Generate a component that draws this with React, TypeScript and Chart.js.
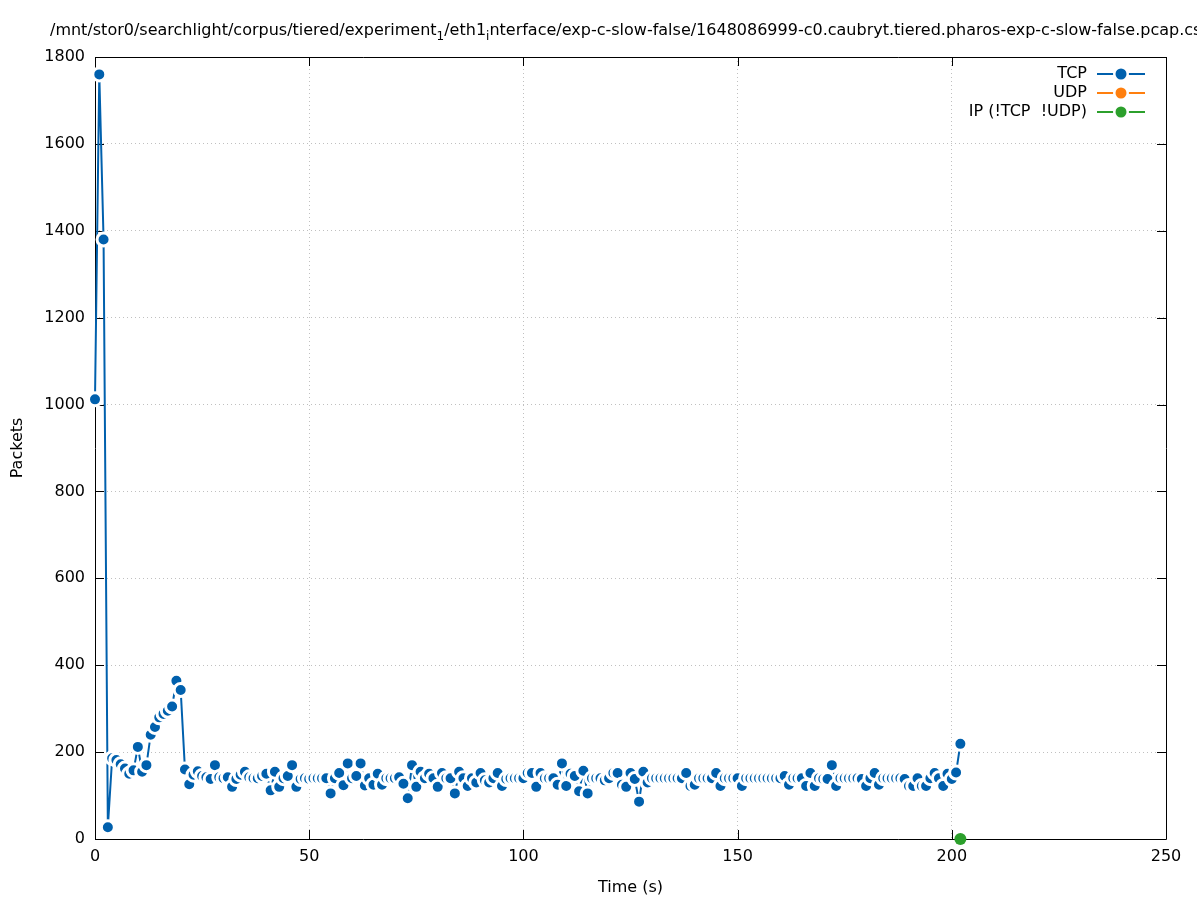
import React, { useEffect, useRef } from "react";
import { Chart, registerables } from "chart.js";

Chart.register(...registerables);

const FONT_FAMILY = "'DejaVu Sans', sans-serif";
const FONT_SIZE = 16;

const TITLE_PARTS = [
  { text: "/mnt/stor0/searchlight/corpus/tiered/experiment", sub: false },
  { text: "1", sub: true },
  { text: "/eth1", sub: false },
  { text: "i", sub: true },
  { text: "nterface/exp-c-slow-false/1648086999-c0.caubryt.tiered.pharos-exp-c-slow-false.pcap.csv", sub: false },
];

const X_TITLE = "Time (s)";
const Y_TITLE = "Packets";
const X_MIN = 0;
const X_MAX = 250;
const X_STEP = 50;
const Y_MIN = 0;
const Y_MAX = 1800;
const Y_STEP = 200;

const SERIES_LABELS = ["TCP", "UDP", "IP (!TCP  !UDP)"];
const SERIES_COLORS = ["#0060ad", "#ff7f0e", "#2ca02c"];

// TCP packets per second, t = 0 .. 202 s
const TCP = [
  1012, 1760, 1380, 27, 186, 182, 172, 162, 150, 158,
  212, 155, 170, 240, 258, 280, 288, 295, 305, 364,
  343, 160, 126, 148, 156, 145, 142, 138, 170, 142,
  140, 142, 120, 138, 148, 155, 142, 140, 140, 145,
  150, 112, 155, 120, 140, 145, 170, 120, 138, 140,
  138, 140, 140, 140, 140, 105, 140, 152, 124, 174,
  140, 145, 174, 123, 140, 125, 150, 125, 140, 140,
  140, 142, 127, 94, 170, 120, 155, 140, 150, 140,
  120, 152, 140, 140, 105, 155, 140, 122, 140, 130,
  152, 135, 130, 140, 152, 122, 138, 140, 140, 140,
  140, 152, 152, 120, 152, 140, 140, 140, 125, 174,
  122, 150, 145, 110, 157, 105, 140, 140, 140, 135,
  140, 152, 152, 125, 120, 152, 138, 86, 155, 130,
  140, 140, 140, 140, 140, 140, 140, 140, 152, 122,
  125, 140, 140, 140, 140, 152, 122, 140, 140, 140,
  140, 122, 140, 140, 140, 140, 140, 140, 140, 140,
  140, 145, 125, 140, 140, 140, 122, 152, 122, 140,
  138, 138, 170, 122, 140, 140, 140, 140, 140, 138,
  122, 140, 152, 125, 140, 140, 140, 140, 140, 138,
  122, 122, 140, 122, 122, 140, 152, 140, 122, 150,
  138, 153, 219,
];

const TIMES = TCP.map((_, i) => i);

// UDP: no samples
const UDP: number[] = [];

// IP (!TCP !UDP): zero packets, sample drawn at the final second
const IP_OTHER_TIMES = [202];
const IP_OTHER = [0];

const framePlugin = {
  id: "gnuplotFrame",
  beforeDatasetsDraw(chart: any) {
    const { ctx, chartArea } = chart;
    const { left, right, top, bottom } = chartArea;
    const xs = chart.scales.x;
    const ys = chart.scales.y;
    const tl = 9;
    ctx.save();
    ctx.strokeStyle = "#000";
    ctx.lineWidth = 1;
    ctx.beginPath();
    ctx.rect(Math.round(left) + 0.5, Math.round(top) + 0.5, Math.round(right - left), Math.round(bottom - top));
    for (let v = X_MIN; v <= X_MAX; v += X_STEP) {
      const px = Math.round(xs.getPixelForValue(v)) + 0.5;
      ctx.moveTo(px, bottom);
      ctx.lineTo(px, bottom - tl);
      ctx.moveTo(px, top);
      ctx.lineTo(px, top + tl);
    }
    for (let v = Y_MIN; v <= Y_MAX; v += Y_STEP) {
      const py = Math.round(ys.getPixelForValue(v)) + 0.5;
      ctx.moveTo(left, py);
      ctx.lineTo(left + tl, py);
      ctx.moveTo(right, py);
      ctx.lineTo(right - tl, py);
    }
    ctx.stroke();
    ctx.restore();
  },
  afterDraw(chart: any) {
    const { ctx } = chart;
    ctx.save();
    // title
    let x = 50;
    const baseY = 35;
    ctx.fillStyle = "#000";
    ctx.textAlign = "left";
    ctx.textBaseline = "alphabetic";
    for (const part of TITLE_PARTS) {
      const size = part.sub ? 12 : FONT_SIZE;
      ctx.font = `${size}px ${FONT_FAMILY}`;
      ctx.fillText(part.text, x, part.sub ? baseY + 5 : baseY);
      x += ctx.measureText(part.text).width;
    }
    // legend
    ctx.font = `${FONT_SIZE}px ${FONT_FAMILY}`;
    ctx.textAlign = "right";
    ctx.textBaseline = "middle";
    SERIES_LABELS.forEach((label, i) => {
      const y = 74 + i * 19;
      ctx.fillStyle = "#000";
      ctx.fillText(label, 1087, y);
      ctx.strokeStyle = SERIES_COLORS[i];
      ctx.lineWidth = 2;
      ctx.beginPath();
      ctx.moveTo(1097, y);
      ctx.lineTo(1145, y);
      ctx.stroke();
      ctx.beginPath();
      ctx.arc(1121, y, 8, 0, Math.PI * 2);
      ctx.fillStyle = "#fff";
      ctx.fill();
      ctx.beginPath();
      ctx.arc(1121, y, 5.5, 0, Math.PI * 2);
      ctx.fillStyle = SERIES_COLORS[i];
      ctx.fill();
    });
    ctx.restore();
  },
};

export default function App() {
  const canvasRef = useRef<HTMLCanvasElement | null>(null);

  useEffect(() => {
    if (!canvasRef.current) return;
    const pointOpts = (color: string) => ({
      borderColor: color,
      backgroundColor: color,
      pointBackgroundColor: color,
      pointBorderColor: "#ffffff",
      pointBorderWidth: 3,
      pointRadius: 6.5,
      pointHoverRadius: 6.5,
      borderWidth: 2,
      clip: false as any,
      tension: 0,
    });
    const chart = new Chart(canvasRef.current, {
      type: "line",
      data: {
        datasets: [
          {
            label: SERIES_LABELS[0],
            data: TCP.map((v, i) => ({ x: TIMES[i], y: v })),
            ...pointOpts(SERIES_COLORS[0]),
          },
          {
            label: SERIES_LABELS[1],
            data: UDP.map((v, i) => ({ x: TIMES[i], y: v })),
            ...pointOpts(SERIES_COLORS[1]),
          },
          {
            label: SERIES_LABELS[2],
            data: IP_OTHER.map((v, i) => ({ x: IP_OTHER_TIMES[i], y: v })),
            ...pointOpts(SERIES_COLORS[2]),
            showLine: false,
            pointBorderWidth: 0,
            pointRadius: 6,
          },
        ],
      },
      options: {
        responsive: false,
        animation: false,
        events: [],
        layout: { padding: { left: 0, right: 31, top: 57, bottom: 0 } },
        plugins: {
          legend: { display: false },
          title: { display: false },
          tooltip: { enabled: false },
        },
        scales: {
          x: {
            type: "linear",
            min: X_MIN,
            max: X_MAX,
            afterFit: (scale: any) => {
              scale.height = 61;
            },
            ticks: {
              stepSize: X_STEP,
              color: "#000",
              font: { family: FONT_FAMILY, size: FONT_SIZE },
              padding: 8,
              maxRotation: 0,
              autoSkip: false,
              callback: (v: any) => String(v),
            },
            grid: {
              color: (c: any) => (c.tick && (c.tick.value === X_MIN || c.tick.value === X_MAX) ? "rgba(0,0,0,0)" : "#c0c0c0"),
              lineWidth: 1,
              drawTicks: false,
            },
            border: { display: false, dash: [1, 3] },
            title: {
              display: true,
              text: X_TITLE,
              color: "#000",
              font: { family: FONT_FAMILY, size: FONT_SIZE },
              padding: { top: 0, bottom: 3 },
            },
          },
          y: {
            type: "linear",
            min: Y_MIN,
            max: Y_MAX,
            afterFit: (scale: any) => {
              scale.width = 95;
            },
            ticks: {
              stepSize: Y_STEP,
              color: "#000",
              font: { family: FONT_FAMILY, size: FONT_SIZE },
              padding: 10,
              callback: (v: any) => String(v),
            },
            grid: {
              color: (c: any) => (c.tick && (c.tick.value === Y_MIN || c.tick.value === Y_MAX) ? "rgba(0,0,0,0)" : "#c0c0c0"),
              lineWidth: 1,
              drawTicks: false,
            },
            border: { display: false, dash: [1, 3] },
            title: {
              display: true,
              text: Y_TITLE,
              color: "#000",
              font: { family: FONT_FAMILY, size: FONT_SIZE },
              padding: { top: 8, bottom: 0 },
            },
          },
        },
      },
      plugins: [framePlugin],
    });
    return () => chart.destroy();
  }, []);

  return (
    <div style={{ position: "fixed", left: 0, top: 0, width: 1197, height: 900, background: "#fff" }}>
      <canvas ref={canvasRef} width={1197} height={900} style={{ display: "block" }} />
    </div>
  );
}
